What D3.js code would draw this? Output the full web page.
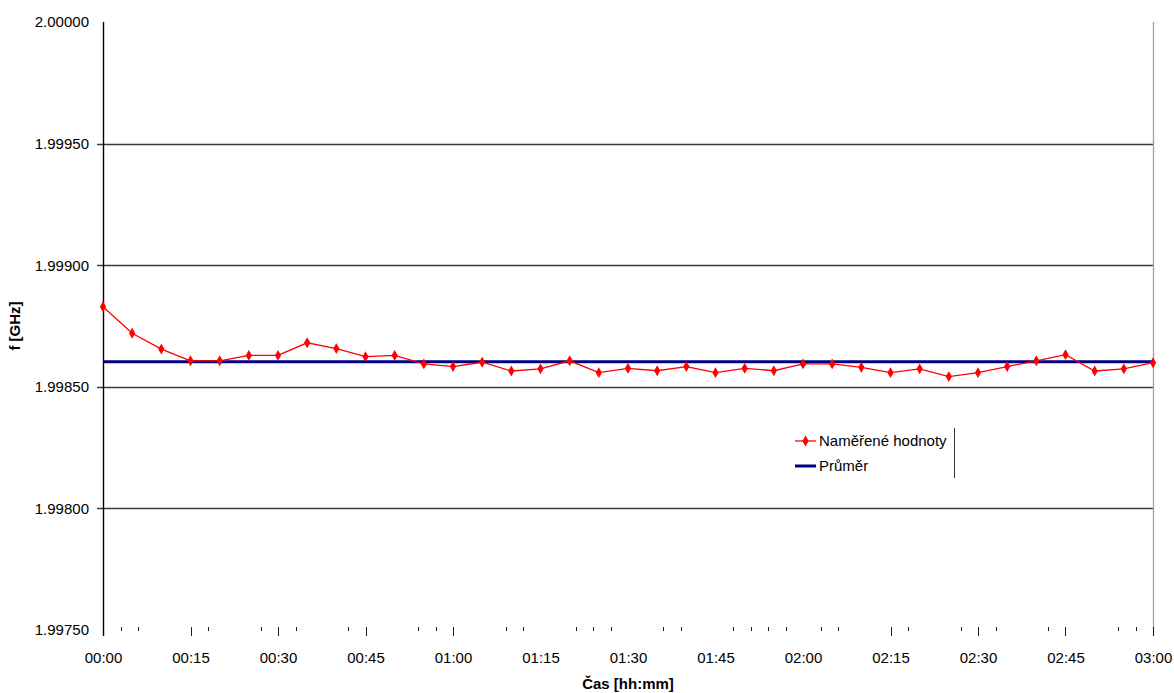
<!DOCTYPE html>
<html>
<head>
<meta charset="utf-8">
<script src="https://cdn.jsdelivr.net/npm/d3@7"></script>
<style>
    body { margin: 0; background: #ffffff; }
    svg text { font-family: 'Liberation Sans', Arial, sans-serif; fill: #000000; }
</style>
</head>
<body>
<svg id="chart"></svg>
<script>
// measured times (hh:mm) and frequencies in GHz
let times = ['00:00', '00:05', '00:10', '00:15', '00:20', '00:25', '00:30', '00:35', '00:40', '00:45',
             '00:50', '00:55', '01:00', '01:05', '01:10', '01:15', '01:20', '01:25', '01:30', '01:35',
             '01:40', '01:45', '01:50', '01:55', '02:00', '02:05', '02:10', '02:15', '02:20', '02:25',
             '02:30', '02:35', '02:40', '02:45', '02:50', '02:55', '03:00']
let measured = [1.998829, 1.998720, 1.998655, 1.998607, 1.998607, 1.998629, 1.998629, 1.998681, 1.998657, 1.998624,
                1.998629, 1.998594, 1.998583, 1.998601, 1.998565, 1.998574, 1.998607, 1.998558, 1.998576, 1.998566,
                1.998583, 1.998558, 1.998576, 1.998566, 1.998594, 1.998594, 1.998580, 1.998558, 1.998574, 1.998542,
                1.998558, 1.998583, 1.998607, 1.998632, 1.998565, 1.998574, 1.998599]
// average of the measurements (second series)
let average = [1.998603]

// axis labels
let xTickLabels = ['00:00', '00:15', '00:30', '00:45', '01:00', '01:15', '01:30', '01:45', '02:00',
                   '02:15', '02:30', '02:45', '03:00']
let yTicks = [1.99750, 1.99800, 1.99850, 1.99900, 1.99950, 2.00000]
let yGridValues = [1.99800, 1.99850, 1.99900, 1.99950]
// tick marks that show under the x axis (minutes)
let majorTickMinutes = [15, 30, 45, 60, 135, 150, 165, 180]
let minorTickMinutes = [3, 6, 18, 27, 33, 42, 54, 57, 69, 72, 81, 84, 87, 96, 99, 108, 111, 114,
                        117, 123, 126, 138, 147, 153, 162, 174, 177]

let seriesNames = ['Naměřené hodnoty', 'Průměr']

let width = 1174
let height = 693
let plotLeft = 103
let plotRight = 1153
let plotTop = 22
let plotBottom = 630

let svg = d3.select('svg')
let xScale
let yScale

// "hh:mm" -> minutes
let toMinutes = (s) => {
    let parts = s.split(':')
    return +parts[0] * 60 + +parts[1]
}

let drawCanvas = () => {
    svg.attr('width', width)
    svg.attr('height', height)
}

let generateScales = () => {
    xScale = d3.scaleLinear()
               .domain([toMinutes(times[0]), toMinutes(times[times.length - 1])])
               .range([plotLeft, plotRight])
    yScale = d3.scaleLinear()
               .domain([d3.min(yTicks), d3.max(yTicks)])
               .range([plotBottom, plotTop])
}

let drawGrid = () => {
    // horizontal grid lines, they also stick out left as ticks
    svg.append('g')
       .selectAll('line')
       .data(yGridValues)
       .enter()
       .append('line')
       .attr('x1', plotLeft - 6)
       .attr('x2', plotRight)
       .attr('y1', (d) => Math.round(yScale(d)) + 0.5)
       .attr('y2', (d) => Math.round(yScale(d)) + 0.5)
       .attr('stroke', '#3a3a3a')
       .attr('stroke-width', 1.3)

    // right border of the plot
    svg.append('line')
       .attr('x1', plotRight + 0.5)
       .attr('x2', plotRight + 0.5)
       .attr('y1', plotTop)
       .attr('y2', plotBottom + 6)
       .attr('stroke', '#a0a0a0')
       .attr('stroke-width', 1.3)
}

let generateAxes = () => {
    let yAxis = d3.axisLeft(yScale)
                  .tickValues(yTicks)
                  .tickSize(0)
                  .tickPadding(14)
                  .tickFormat(d3.format('.5f'))
    let yg = svg.append('g')
                .attr('transform', 'translate(' + plotLeft + ', 0)')
                .call(yAxis)
    yg.select('.domain').remove()
    yg.selectAll('text')
      .attr('font-size', 15)
      .attr('fill', '#111')

    let xAxis = d3.axisBottom(xScale)
                  .tickValues(xTickLabels.map(toMinutes))
                  .tickSize(0)
                  .tickPadding(22)
                  .tickFormat((d, i) => xTickLabels[i])
    let xg = svg.append('g')
                .attr('transform', 'translate(0, ' + plotBottom + ')')
                .call(xAxis)
    xg.select('.domain').remove()
    xg.selectAll('text')
      .attr('font-size', 15)
      .attr('fill', '#111')

    // x tick marks
    svg.append('g')
       .selectAll('line')
       .data(majorTickMinutes)
       .enter()
       .append('line')
       .attr('x1', (d) => Math.round(xScale(d)) + 0.5)
       .attr('x2', (d) => Math.round(xScale(d)) + 0.5)
       .attr('y1', plotBottom - 3)
       .attr('y2', plotBottom + 6)
       .attr('stroke', '#222')
    svg.append('g')
       .selectAll('line')
       .data(minorTickMinutes)
       .enter()
       .append('line')
       .attr('x1', (d) => Math.round(xScale(d)) + 0.5)
       .attr('x2', (d) => Math.round(xScale(d)) + 0.5)
       .attr('y1', plotBottom - 3)
       .attr('y2', plotBottom + 1)
       .attr('stroke', '#222')

    // y axis line
    svg.append('line')
       .attr('x1', plotLeft + 0.5)
       .attr('x2', plotLeft + 0.5)
       .attr('y1', plotTop)
       .attr('y2', plotBottom + 6)
       .attr('stroke', '#000')
       .attr('stroke-width', 1.4)

    // axis titles
    svg.append('text')
       .attr('x', (plotLeft + plotRight) / 2)
       .attr('y', 689)
       .attr('text-anchor', 'middle')
       .attr('font-size', 15)
       .attr('font-weight', 'bold')
       .text('Čas [hh:mm]')
    svg.append('text')
       .attr('transform', 'translate(20, ' + (plotTop + plotBottom) / 2 + ') rotate(-90)')
       .attr('text-anchor', 'middle')
       .attr('font-size', 15)
       .attr('font-weight', 'bold')
       .text('f [GHz]')
}

let drawSeries = () => {
    // average line
    svg.append('line')
       .attr('x1', xScale(toMinutes(times[0])))
       .attr('x2', xScale(toMinutes(times[times.length - 1])))
       .attr('y1', yScale(average[0]))
       .attr('y2', yScale(average[0]))
       .attr('stroke', '#000080')
       .attr('stroke-width', 3)

    let line = d3.line()
                 .x((d, i) => xScale(toMinutes(times[i])))
                 .y((d) => yScale(d))
    svg.append('path')
       .datum(measured)
       .attr('d', line)
       .attr('fill', 'none')
       .attr('stroke', '#ff0000')
       .attr('stroke-width', 1.3)

    let diamond = d3.symbol().type(d3.symbolDiamond).size(34)
    svg.append('g')
       .selectAll('path')
       .data(measured)
       .enter()
       .append('path')
       .attr('d', diamond)
       .attr('transform', (d, i) => 'translate(' + xScale(toMinutes(times[i])) + ', ' + yScale(d) + ')')
       .attr('fill', '#ff0000')
}

let drawLegend = () => {
    let lg = svg.append('g').attr('transform', 'translate(795, 441)')
    lg.append('line')
      .attr('x1', 0).attr('x2', 21).attr('y1', 0).attr('y2', 0)
      .attr('stroke', '#ff0000').attr('stroke-width', 1.3)
    lg.append('path')
      .attr('d', d3.symbol().type(d3.symbolDiamond).size(34))
      .attr('transform', 'translate(10.5, 0)')
      .attr('fill', '#ff0000')
    lg.append('text')
      .attr('x', 24).attr('y', 0).attr('dy', '0.35em')
      .attr('font-size', 15)
      .text(seriesNames[0])

    lg.append('line')
      .attr('x1', 0).attr('x2', 21).attr('y1', 25).attr('y2', 25)
      .attr('stroke', '#000080').attr('stroke-width', 3)
    lg.append('text')
      .attr('x', 24).attr('y', 25).attr('dy', '0.35em')
      .attr('font-size', 15)
      .text(seriesNames[1])

    // what is left of the legend frame
    lg.append('line')
      .attr('x1', 159.5).attr('x2', 159.5).attr('y1', -13).attr('y2', 37)
      .attr('stroke', '#333')
}

document.addEventListener('DOMContentLoaded', function () {
    drawCanvas()
    generateScales()
    drawGrid()
    generateAxes()
    drawSeries()
    drawLegend()
})
</script>
</body>
</html>
